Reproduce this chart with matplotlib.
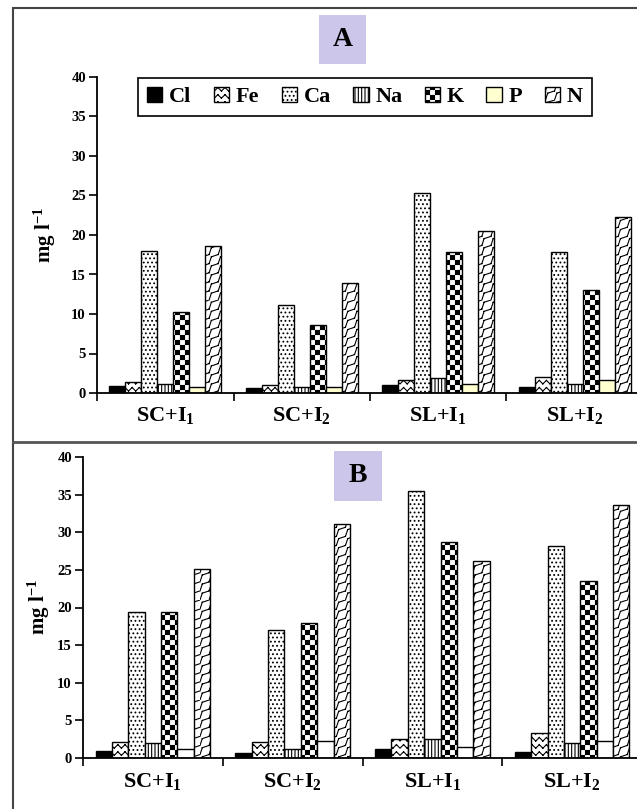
import warnings
import numpy as np
import matplotlib
matplotlib.use("Agg")
import matplotlib.pyplot as plt
import matplotlib.hatch as mhatch
from matplotlib.path import Path
from matplotlib.patches import Rectangle
from matplotlib.lines import Line2D

warnings.filterwarnings("ignore")

# ---- data (mg l-1) ----
elements = ["Cl", "Fe", "Ca", "Na", "K", "P", "N"]
treatments = ["SC+I$_1$", "SC+I$_2$", "SL+I$_1$", "SL+I$_2$"]

# panel A
cl_a = [0.9, 0.6, 1.0, 0.8]
fe_a = [1.4, 1.0, 1.6, 2.0]
ca_a = [18.0, 11.1, 25.3, 17.9]
na_a = [1.1, 0.8, 1.9, 1.1]
k_a = [10.3, 8.6, 17.9, 13.0]
p_a = [0.8, 0.8, 1.1, 1.7]
n_a = [18.6, 13.9, 20.5, 22.3]

# panel B
cl_b = [0.9, 0.6, 1.2, 0.8]
fe_b = [2.1, 2.1, 2.5, 3.3]
ca_b = [19.4, 17.0, 35.5, 28.2]
na_b = [2.0, 1.2, 2.5, 2.0]
k_b = [19.4, 17.9, 28.7, 23.5]
p_b = [1.2, 2.3, 1.5, 2.3]
n_b = [25.1, 31.1, 26.2, 33.6]


# ---- custom hatch patterns (zigzag, checker, diagonal zigzag) ----
class TileHatch(mhatch.HatchPatternBase):
    key = "?"
    cells = 10
    segments = []
    squares = []

    def __init__(self, hatch, density):
        self.n = hatch.count(self.key) * self.cells
        per_cell = 2 * len(self.segments) + 5 * len(self.squares)
        self.num_vertices = self.n * self.n * per_cell

    def set_vertices_and_codes(self, vertices, codes):
        s = 1.0 / self.n
        k = 0
        for i in range(self.n):
            for j in range(self.n):
                ox, oy = i * s, j * s
                for (x0, y0), (x1, y1) in self.segments:
                    vertices[k] = (ox + x0 * s, oy + y0 * s)
                    vertices[k + 1] = (ox + x1 * s, oy + y1 * s)
                    codes[k] = Path.MOVETO
                    codes[k + 1] = Path.LINETO
                    k += 2
                for (x0, y0, x1, y1) in self.squares:
                    pts = [(x0, y0), (x1, y0), (x1, y1), (x0, y1), (x0, y0)]
                    for m, (px, py) in enumerate(pts):
                        vertices[k + m] = (ox + px * s, oy + py * s)
                        codes[k + m] = Path.LINETO
                    codes[k] = Path.MOVETO
                    codes[k + 4] = Path.CLOSEPOLY
                    k += 5


class ZigzagHatch(TileHatch):
    key = "z"
    cells = 14
    segments = [((0, 0.25), (0.5, 0.75)), ((0.5, 0.75), (1, 0.25))]


class CheckerHatch(TileHatch):
    key = "c"
    cells = 10
    e = 0.05
    squares = [(e, e, 0.5 - e, 0.5 - e), (0.5 + e, 0.5 + e, 1 - e, 1 - e)]


class DiagZigzagHatch(TileHatch):
    key = "n"
    cells = 11
    segments = [((0, 0), (0.25, 0.75)), ((0.25, 0.75), (1, 1))]


mhatch._hatch_types.extend([ZigzagHatch, CheckerHatch, DiagZigzagHatch])

plt.rcParams["font.family"] = ["Liberation Serif", "DejaVu Serif"]
plt.rcParams["font.weight"] = "bold"
plt.rcParams["mathtext.fontset"] = "custom"
plt.rcParams["mathtext.rm"] = "Liberation Serif:bold"
plt.rcParams["mathtext.it"] = "Liberation Serif:bold"
plt.rcParams["mathtext.bf"] = "Liberation Serif:bold"
plt.rcParams["hatch.linewidth"] = 0.8
plt.rcParams["hatch.color"] = "black"

W, H = 637, 809
fig = plt.figure(figsize=(W / 100, H / 100), dpi=100)

styles = [
    dict(color="black", hatch=None),
    dict(color="white", hatch="z"),
    dict(color="white", hatch="...."),
    dict(color="white", hatch="|||||"),
    dict(color="white", hatch="c"),
    dict(color="#FFFFD0", hatch=None),
    dict(color="white", hatch="n"),
]


def draw_panel(ax, series, p_color):
    x = np.arange(len(treatments))
    w = 0.117
    handles = []
    for i, (name, vals) in enumerate(zip(elements, series)):
        st = dict(styles[i])
        if name == "P":
            st["color"] = p_color
        b = ax.bar(x + (i - 3) * w, vals, width=w, color=st["color"],
                   hatch=st["hatch"], edgecolor="black", linewidth=1.0,
                   label=name, zorder=2)
        handles.append(b)
    ax.set_xlim(-0.5, len(treatments) - 0.5)
    ax.set_ylim(0, 40)
    ax.set_yticks(np.arange(0, 41, 5))
    ax.set_xticks(np.arange(len(treatments) + 1) - 0.5)
    ax.set_xticklabels([])
    ax.set_xticks(x, minor=True)
    ax.set_xticklabels(treatments, minor=True, fontsize=16, fontweight="bold")
    ax.tick_params(axis="x", which="major", direction="out", length=6, width=1.2)
    ax.tick_params(axis="x", which="minor", length=0, pad=9)
    ax.tick_params(axis="y", direction="out", length=6, width=1.2, pad=2,
                   labelsize=10.5)
    for side in ("top", "right"):
        ax.spines[side].set_visible(False)
    for side in ("left", "bottom"):
        ax.spines[side].set_linewidth(1.3)
    ax.set_facecolor("none")
    ax.set_ylabel("mg l$^{-1}$", fontsize=15, fontweight="bold")
    return handles


# panel A
ax_a = fig.add_axes([97 / W, 1 - 393 / H, 546 / W, 316 / H])
h = draw_panel(ax_a, [cl_a, fe_a, ca_a, na_a, k_a, p_a, n_a], "#FFFFD0")
ax_a.yaxis.set_label_coords(-0.071, 0.5)

# panel B
ax_b = fig.add_axes([83 / W, 1 - 758 / H, 559 / W, 301 / H])
draw_panel(ax_b, [cl_b, fe_b, ca_b, na_b, k_b, p_b, n_b], "white")
ax_b.yaxis.set_label_coords(-0.055, 0.5)

leg = fig.legend(h, elements, loc="upper left",
                 bbox_to_anchor=(138 / W, 1 - 78 / H), borderaxespad=0,
                 ncol=7, fontsize=16, handlelength=0.7, handleheight=0.7,
                 handletextpad=0.3, columnspacing=1.0, borderpad=0.4,
                 fancybox=False, edgecolor="black", framealpha=1)
leg.get_frame().set_linewidth(1.2)

# panel letters in lavender boxes
for (x0, y0, x1, y1), letter in [((319, 15, 366, 64), "A"),
                                 ((334, 451, 382, 501), "B")]:
    fig.add_artist(Rectangle((x0 / W, 1 - y1 / H), (x1 - x0) / W,
                             (y1 - y0) / H, transform=fig.transFigure,
                             facecolor="#CCC6EA", edgecolor="none", zorder=3))
    fig.text((x0 + x1) / 2 / W, 1 - (y0 + y1) / 2 / H, letter, fontsize=20,
             fontweight="bold", ha="center", va="center", zorder=4)

# outer frame and separator line
fig.add_artist(Rectangle((13 / W, -0.05), 1.2, 1.05 - 8 / H,
                         transform=fig.transFigure, fill=False,
                         edgecolor="#444444", linewidth=1.5))
fig.add_artist(Line2D([13 / W, 1.0], [1 - 442 / H] * 2,
                      transform=fig.transFigure, color="#555555",
                      linewidth=2))

fig.savefig("out.png", dpi=100)
